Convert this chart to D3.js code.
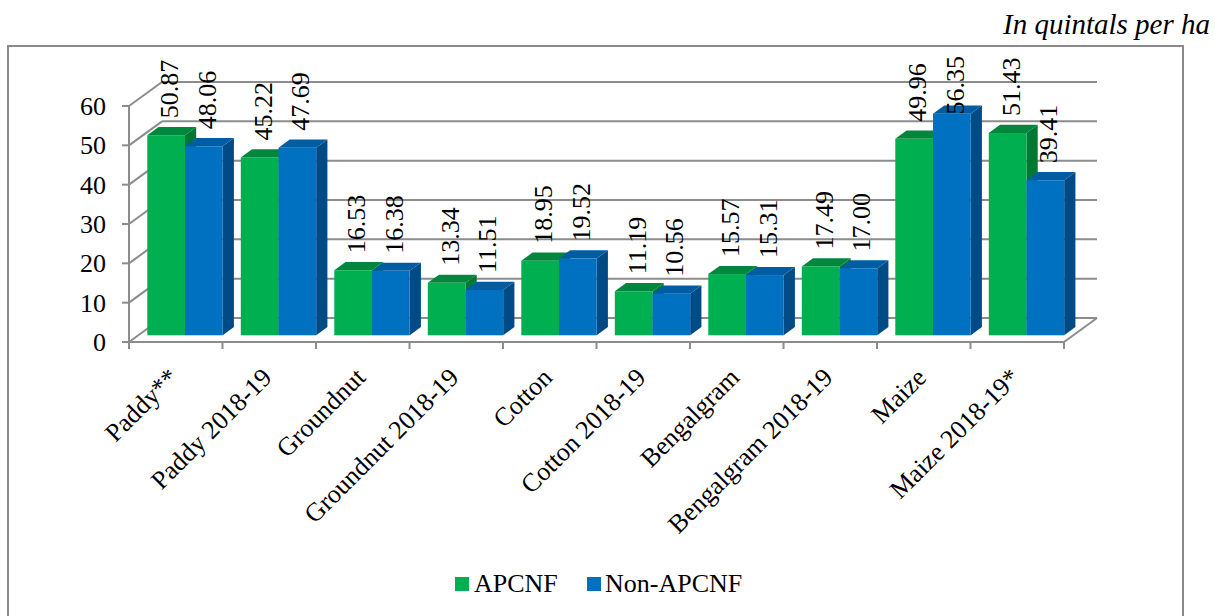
<!DOCTYPE html>
<html>
<head>
<meta charset="utf-8">
<script src="https://cdn.jsdelivr.net/npm/d3@7"></script>
<style>
  html, body { margin: 0; padding: 0; background: #fff; }
  svg { display: block; }
</style>
</head>
<body>
<svg id="chart" width="1215" height="616"></svg>
<script>
// Yield in quintals per hectare
const categories = ["Paddy**", "Paddy 2018-19", "Groundnut", "Groundnut 2018-19", "Cotton",
  "Cotton 2018-19", "Bengalgram", "Bengalgram 2018-19", "Maize", "Maize 2018-19*"];
const seriesNames = ["APCNF", "Non-APCNF"];
const apcnf    = [50.87, 45.22, 16.53, 13.34, 18.95, 11.19, 15.57, 17.49, 49.96, 51.43];
const nonApcnf = [48.06, 47.69, 16.38, 11.51, 19.52, 10.56, 15.31, 17.00, 56.35, 39.41];
const yTicks = [0, 10, 20, 30, 40, 50, 60];

const svg = d3.select("#chart");
const FONT = "'Liberation Serif', Tinos, 'Times New Roman', 'DejaVu Serif', serif";
const FS = 26;

// colours per series: front face, top face, side face
const palette = {
  "APCNF":     { front: "#00b050", top: "#00873d", side: "#007834" },
  "Non-APCNF": { front: "#0070c0", top: "#005ca3", side: "#004a86" }
};

// 3-D projection: full depth of the plot box, and the slice a bar occupies
const depth = { dx: 33, dy: -24 };
const barFront = 0.28, barBack = 0.62;
const shift = f => [depth.dx * f, depth.dy * f];

const x = d3.scaleBand().domain(categories).range([129, 1064]).paddingInner(0).paddingOuter(0);
const xs = d3.scaleBand().domain(seriesNames).range([0, x.bandwidth()]).paddingInner(0).paddingOuter(0.24);
const y = d3.scaleLinear().domain([0, 60]).range([342, 106]);

// outer frame
svg.append("rect")
  .attr("x", 8).attr("y", 46).attr("width", 1175).attr("height", 640)
  .attr("fill", "none").attr("stroke", "#8a8a8a").attr("stroke-width", 2);

// unit note
svg.append("text")
  .attr("x", 1210).attr("y", 34)
  .attr("text-anchor", "end")
  .attr("font-family", FONT)
  .attr("font-style", "italic").attr("font-size", 29)
  .text("In quintals per ha");

const grid = svg.append("g").attr("stroke", "#8c8c8c").attr("stroke-width", 2).attr("fill", "none");
const [bx, by] = shift(1);
const x0 = x.range()[0], x1 = x.range()[1];

// back wall gridlines and side wall diagonals
yTicks.forEach(t => {
  grid.append("line")
    .attr("x1", x0 + bx).attr("y1", y(t) + by)
    .attr("x2", x1 + bx).attr("y2", y(t) + by);
  grid.append("line")
    .attr("x1", x0).attr("y1", y(t))
    .attr("x2", x0 + bx).attr("y2", y(t) + by);
});
// floor front edge and right edge
grid.append("line").attr("x1", x0).attr("y1", y(0)).attr("x2", x1).attr("y2", y(0));
grid.append("line").attr("x1", x1).attr("y1", y(0)).attr("x2", x1 + bx).attr("y2", y(0) + by);

// y axis line and ticks
grid.append("line").attr("x1", x0).attr("y1", y(0)).attr("x2", x0).attr("y2", y(60));
yTicks.forEach(t => {
  grid.append("line").attr("x1", x0 - 7).attr("y1", y(t)).attr("x2", x0).attr("y2", y(t));
});
// x axis ticks at category boundaries
const bounds = categories.map(c => x(c)).concat([x1]);
bounds.forEach(b => {
  grid.append("line").attr("x1", b).attr("y1", y(0)).attr("x2", b).attr("y2", y(0) + 7);
});

// y tick labels
svg.append("g").selectAll("text").data(yTicks).join("text")
  .attr("x", 106).attr("y", d => y(d))
  .attr("dy", "0.35em")
  .attr("text-anchor", "end")
  .attr("font-family", FONT).attr("font-size", FS)
  .text(d => d);

// bars
const rows = categories.map((c, i) => ({ cat: c, values: [
  { s: "APCNF", v: apcnf[i] }, { s: "Non-APCNF", v: nonApcnf[i] }
]}));

const [fx, fy] = shift(barFront);
const [kx, ky] = shift(barBack);
const pts = a => a.map(p => p.join(",")).join(" ");

const bars = svg.append("g");
const labels = svg.append("g");

rows.forEach(r => {
  r.values.forEach(d => {
    const col = palette[d.s];
    const left = x(r.cat) + xs(d.s) + fx;
    const right = left + xs.bandwidth();
    const top = y(d.v) + fy;
    const bottom = y(0) + fy;
    const dx = kx - fx, dy = ky - fy;
    const g = bars.append("g");
    // side face
    g.append("polygon").attr("fill", col.side)
      .attr("points", pts([[right, top], [right + dx, top + dy], [right + dx, bottom + dy], [right, bottom]]));
    // top face
    g.append("polygon").attr("fill", col.top)
      .attr("points", pts([[left, top], [left + dx, top + dy], [right + dx, top + dy], [right, top]]));
    // front face
    g.append("rect").attr("fill", col.front)
      .attr("x", left).attr("y", top).attr("width", right - left).attr("height", bottom - top);

    // value label, rotated, sitting above the bar (kept inside the plot area)
    const cx = (left + right) / 2 + 3;
    const lbl = labels.append("text")
      .attr("font-family", FONT).attr("font-size", FS)
      .attr("text-anchor", "start")
      .text(d.v.toFixed(2));
    const len = lbl.node().getComputedTextLength();
    let base = top - 17;
    if (base - len < 56) base = 56 + len;
    lbl.attr("transform", `translate(${cx + 9},${base}) rotate(-90)`);
  });
});

// category labels, slanted
svg.append("g").selectAll("text").data(categories).join("text")
  .attr("text-anchor", "end")
  .attr("font-family", FONT).attr("font-size", FS)
  .attr("transform", c => `translate(${x(c) + x.bandwidth() / 2 + 4},${379}) rotate(-45)`)
  .text(c => c);

// legend
const legend = svg.append("g");
const legendItems = [
  { s: "APCNF", sx: 455, tx: 474 },
  { s: "Non-APCNF", sx: 587, tx: 605 }
];
legendItems.forEach(it => {
  legend.append("rect").attr("x", it.sx).attr("y", 577).attr("width", 14).attr("height", 14)
    .attr("fill", palette[it.s].front);
  legend.append("text").attr("x", it.tx).attr("y", 592)
    .attr("font-family", FONT).attr("font-size", FS).text(it.s);
});
</script>
</body>
</html>
